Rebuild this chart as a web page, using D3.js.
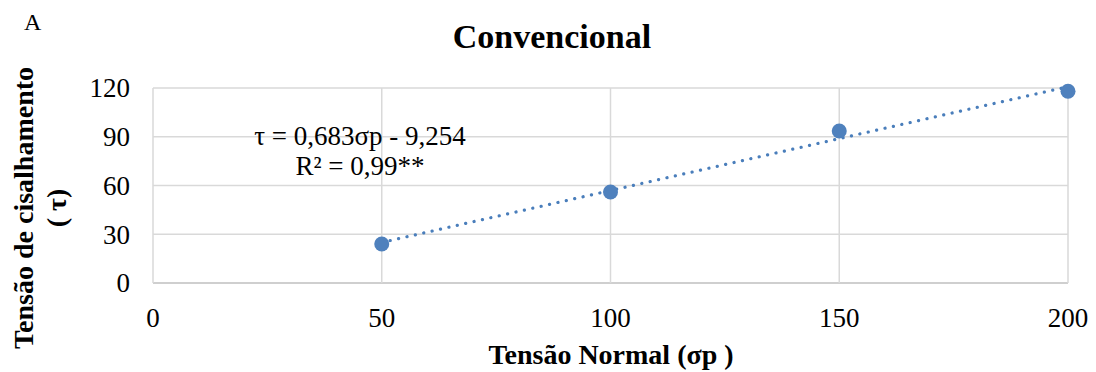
<!DOCTYPE html>
<html>
<head>
<meta charset="utf-8">
<script src="https://cdn.jsdelivr.net/npm/d3@7"></script>
<style>
  body { margin: 0; background: #fff; }
  text { font-family: "Liberation Serif", "Times New Roman", serif; fill: #000; }
</style>
</head>
<body>
<div id="chart"></div>
<script>
var tensaoNormal = [50, 100, 150, 200];
var cisalhamento = [24, 56, 93.5, 118];
var xTicks = [0, 50, 100, 150, 200];
var yTicks = [0, 30, 60, 90, 120];

var margin = { top: 88, right: 28, bottom: 89, left: 153 },
    width = 1096 - margin.left - margin.right,
    height = 372 - margin.top - margin.bottom;

var svg = d3.select("#chart").append("svg")
    .attr("width", 1096)
    .attr("height", 372);

var g = svg.append("g").attr("transform", "translate(" + margin.left + "," + margin.top + ")");

var x = d3.scaleLinear().domain([0, 200]).range([0, width]);
var y = d3.scaleLinear().domain([0, 120]).range([height, 0]);

// grid
g.selectAll(".hgrid").data(yTicks).enter().append("line")
    .attr("x1", 0).attr("x2", width)
    .attr("y1", d => y(d)).attr("y2", d => y(d))
    .attr("stroke", d => d == 0 ? "#bfbfbf" : "#d9d9d9")
    .attr("stroke-width", 1.5);
g.selectAll(".vgrid").data(xTicks).enter().append("line")
    .attr("x1", d => x(d)).attr("x2", d => x(d))
    .attr("y1", 0).attr("y2", height)
    .attr("stroke", "#d9d9d9")
    .attr("stroke-width", 1.5);

// tick labels
g.selectAll(".ylab").data(yTicks).enter().append("text")
    .attr("x", -23).attr("y", d => y(d)).attr("dy", "0.35em")
    .attr("text-anchor", "end").attr("font-size", 27)
    .text(d => d);
g.selectAll(".xlab").data(xTicks).enter().append("text")
    .attr("x", d => x(d)).attr("y", height + 44)
    .attr("text-anchor", "middle").attr("font-size", 27)
    .text(d => d);

// trend line (least squares)
var mx = d3.mean(tensaoNormal), my = d3.mean(cisalhamento);
var sxy = d3.sum(tensaoNormal, (v, i) => (v - mx) * (cisalhamento[i] - my));
var sxx = d3.sum(tensaoNormal, v => (v - mx) * (v - mx));
var slope = sxy / sxx, icpt = my - slope * mx;
var x0 = d3.min(tensaoNormal), x1 = d3.max(tensaoNormal);
g.append("line")
    .attr("x1", x(x0)).attr("y1", y(slope * x0 + icpt))
    .attr("x2", x(x1)).attr("y2", y(slope * x1 + icpt))
    .attr("stroke", "#4a7ebb")
    .attr("stroke-width", 3.2)
    .attr("stroke-linecap", "round")
    .attr("stroke-dasharray", "0.1 8.5");

// points
g.selectAll(".pt").data(tensaoNormal).enter().append("circle")
    .attr("cx", d => x(d)).attr("cy", (d, i) => y(cisalhamento[i]))
    .attr("r", 7.5)
    .attr("fill", "#4f81bd");

// equation
var eq = g.append("text").attr("text-anchor", "middle").attr("font-size", 27);
eq.append("tspan").attr("x", 207).attr("y", 57).text("τ = 0,683σp - 9,254");
eq.append("tspan").attr("x", 207).attr("y", 87).text("R² = 0,99**");

// title and labels
svg.append("text").attr("x", 552).attr("y", 48)
    .attr("text-anchor", "middle").attr("font-size", 34).attr("font-weight", "bold")
    .text("Convencional");
svg.append("text").attr("x", 24).attr("y", 30).attr("font-size", 24).text("A");
svg.append("text").attr("x", 611).attr("y", 364)
    .attr("text-anchor", "middle").attr("font-size", 28).attr("font-weight", "bold")
    .text("Tensão Normal (σp )");
var yl = svg.append("text").attr("transform", "translate(33,208) rotate(-90)")
    .attr("text-anchor", "middle").attr("font-size", 28).attr("font-weight", "bold");
yl.append("tspan").attr("x", 0).attr("y", 0).text("Tensão de cisalhamento");
yl.append("tspan").attr("x", 0).attr("y", 33).text("( τ)");
</script>
</body>
</html>
